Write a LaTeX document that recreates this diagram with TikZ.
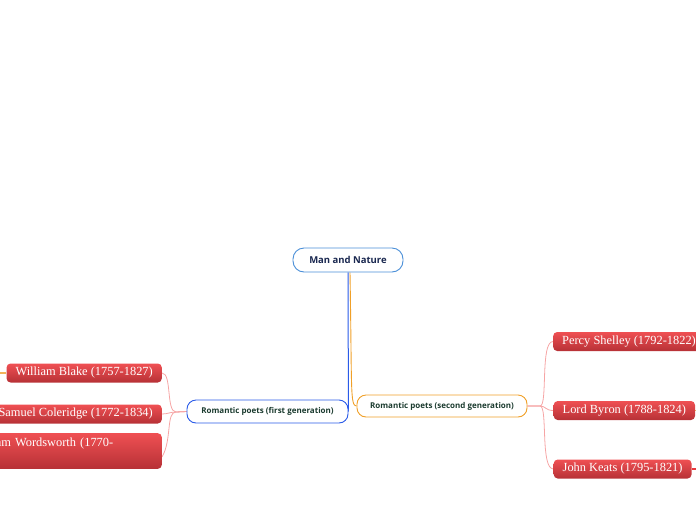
\documentclass[tikz,border=0pt]{standalone}
\usepackage{fontspec}
\setmainfont{Liberation Serif}
\setsansfont{Open Sans}
\usetikzlibrary{backgrounds}
\definecolor{rootblue}{HTML}{4A8FD8}
\definecolor{firstblue}{HTML}{2A5BE8}
\definecolor{secondorange}{HTML}{F0A028}
\definecolor{stuborange}{HTML}{F2B35A}
\definecolor{stubred}{HTML}{E8383C}
\definecolor{topictext}{HTML}{1B3B2F}
\definecolor{roottext}{HTML}{1A2850}
\definecolor{leaftop}{HTML}{EF5053}
\definecolor{leafbottom}{HTML}{B73136}
\definecolor{leaflink}{HTML}{F6A5A5}
\begin{document}
\begin{tikzpicture}[x=1pt, y=-1pt, font=\sffamily]

        % Styles
        \tikzstyle{topic} = [draw, line width=0.9pt, rounded corners=9pt, fill=white, inner sep=0pt, font=\sffamily\bfseries]
        \tikzstyle{leaf} = [rounded corners=4pt, top color=leaftop, bottom color=leafbottom, text=white, font=\rmfamily\fontsize{12.4}{14.4}\selectfont, inner xsep=9pt, inner ysep=3pt, minimum height=19pt]
        \tikzstyle{link} = [line width=0.8pt, draw=leaflink]
        \tikzstyle{stub} = [line width=1.2pt]

        % Canvas
        \useasboundingbox (0,0) rectangle (696,520);
        \clip (0,0) rectangle (696,520);

        % Central topic and the two generations
        \node[topic, draw=rootblue, text=roottext, minimum width=110pt, minimum height=24pt, rounded corners=11pt, font=\sffamily\bfseries\fontsize{9.5}{11}\selectfont] (root) at (348,260) {Man and Nature};
        \node[topic, draw=firstblue, text=topictext, minimum width=161pt, minimum height=23pt, font=\sffamily\bfseries\fontsize{8}{9}\selectfont] (first) at (267.5,411.5) {Romantic poets (first generation)};
        \node[topic, draw=secondorange, text=topictext, minimum width=170pt, minimum height=22pt, font=\sffamily\bfseries\fontsize{8}{9}\selectfont] (second) at (442,406) {Romantic poets (second generation)};

        % First generation poets
        \node[leaf, anchor=east] (blake) at (162,373) {William Blake (1757-1827)};
        \node[leaf, anchor=east] (coleridge) at (162,414) {Samuel Coleridge (1772-1834)};
        \node[leaf, anchor=north east, align=left, text width=182pt, inner ysep=5pt] (wordsworth) at (162,433) {William Wordsworth (1770-\\1850)};

        % Second generation poets
        \node[leaf, anchor=west] (shelley) at (553,341.5) {Percy Shelley (1792-1822)};
        \node[leaf, anchor=west] (byron) at (553.5,410.5) {Lord Byron (1788-1824)};
        \node[leaf, anchor=west] (keats) at (553.5,469) {John Keats (1795-1821)};

        % Branches leaving the canvas
        \coordinate (blakeout) at (0,373);
        \coordinate (byronout) at (696,410.5);
        \coordinate (keatsout) at (696,469);

        \begin{pgfonlayer}{background}
        \draw[stub, stuborange] (blakeout) -- (blake.west);
        \draw[stub, stuborange] (byron.east) -- (byronout);
        \draw[stub, stubred] (keats.east) -- (keatsout);

        \draw[draw=firstblue, line width=1pt] (root.south) -- (first.east);
        \draw[draw=secondorange, line width=0.9pt] ([xshift=2pt]root.south) .. controls (352,390) and (350,406) .. (second.west);

        \draw[link] (first.west) -- (176,412) .. controls (166,412) and (172,373) .. (blake.east);
        \draw[link] (first.west) -- (176,412) .. controls (170,412) and (168,414) .. (coleridge.east);
        \draw[link] (first.west) -- (176,412) .. controls (166,412) and (172,440) .. ([yshift=-6pt]wordsworth.east);

        \draw[link] (second.east) -- (540,406) .. controls (548,406) and (540,341.5) .. (shelley.west);
        \draw[link] (second.east) -- (540,406) .. controls (546,406) and (545,410.5) .. (byron.west);
        \draw[link] (second.east) -- (540,406) .. controls (548,406) and (540,469) .. (keats.west);
        \end{pgfonlayer}

\end{tikzpicture}
\end{document}
